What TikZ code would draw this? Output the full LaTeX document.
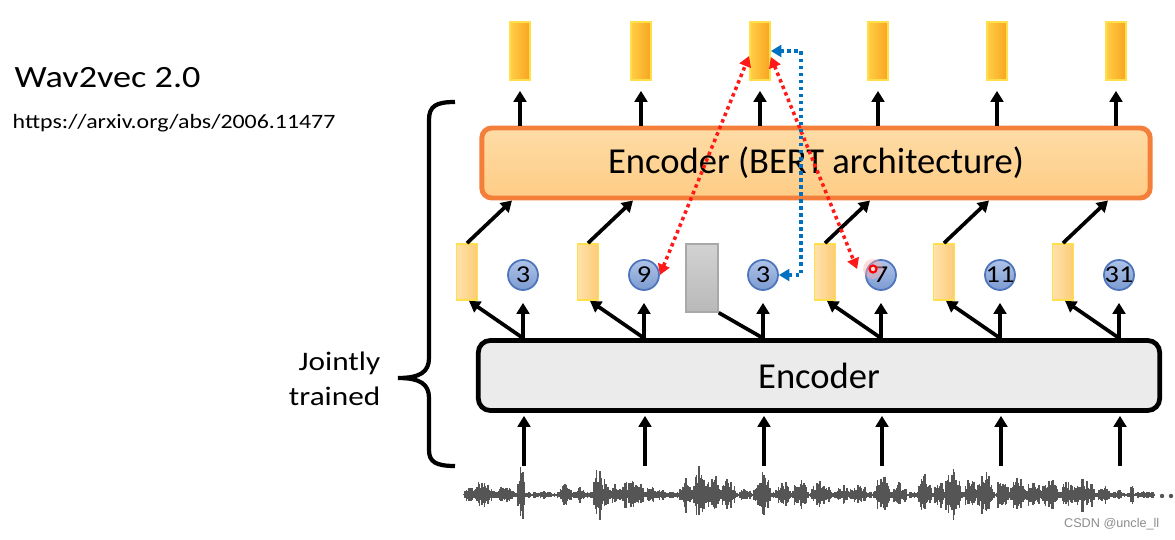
\documentclass[tikz,border=0pt]{standalone}
\usepackage{fontspec}
\setmainfont{Carlito}
\newfontfamily\slidefont[FakeStretch=1.17]{Carlito}
\newfontfamily\markfont{Liberation Sans}
\usepackage{tikz}
\usetikzlibrary{arrows.meta,shapes,calc,positioning}
\definecolor{bertline}{HTML}{F47F3A}
\definecolor{berttop}{HTML}{FDDCA6}
\definecolor{bertbot}{HTML}{FFCC85}
\definecolor{encgray}{HTML}{EBEBEB}
\definecolor{featleft}{HTML}{FFE2AC}
\definecolor{featright}{HTML}{FCCB76}
\definecolor{featline}{HTML}{FFE04A}
\definecolor{ctxleft}{HTML}{FFCE45}
\definecolor{ctxright}{HTML}{F8A421}
\definecolor{codetop}{HTML}{AEC3E8}
\definecolor{codebot}{HTML}{7D9BD2}
\definecolor{codeline}{HTML}{4E74BC}
\definecolor{maskline}{HTML}{A8A8A8}
\definecolor{masktop}{HTML}{D2D2D2}
\definecolor{maskbot}{HTML}{B9B9B9}
\definecolor{linkred}{HTML}{FF1A1A}
\definecolor{linkblue}{HTML}{0070C0}
\definecolor{wavegray}{HTML}{555555}
\tikzset{
	feat/.style={rectangle,draw=featline,line width=0.5pt,left color=featleft,right color=featright,minimum width=0.21cm,minimum height=0.56cm,inner sep=0pt},
	ctx/.style={rectangle,draw=featline,line width=0.5pt,left color=ctxleft,right color=ctxright,minimum width=0.2cm,minimum height=0.58cm,inner sep=0pt},
	code/.style={circle,draw=codeline,line width=0.5pt,top color=codetop,bottom color=codebot,minimum size=0.3cm,inner sep=0pt},
	codenum/.style={inner sep=0pt,font=\slidefont\fontsize{6.9}{7}\selectfont},
	mask/.style={rectangle,draw=maskline,line width=0.4pt,top color=masktop,bottom color=maskbot,minimum width=0.32cm,minimum height=0.68cm,inner sep=0pt},
	link/.style={line width=1.05pt,-{Triangle[length=3.1pt,width=3.6pt]}},
	guess/.style={linkred,line width=1pt,dash pattern=on 1pt off 1pt,{Triangle[length=3pt,width=3.4pt]}-{Triangle[length=3pt,width=3.4pt]}},
	quiz/.style={linkblue,line width=1pt,dash pattern=on 1pt off 1pt,{Triangle[length=3pt,width=3.4pt]}-{Triangle[length=3pt,width=3.4pt]}},
	wave/.style={draw=wavegray,line width=0.5pt}}

\begin{document}
\begin{tikzpicture}[x=0.01cm,y=-0.01cm]
	\useasboundingbox (0,0) rectangle (1175,540);

	\tikzstyle{every node}=[font=\fontsize{10.4}{12}\selectfont]
	\tikzstyle{bert}=[rectangle,rounded corners=0.1cm,draw=bertline,line width=1.4pt,top color=berttop,bottom color=bertbot,minimum width=6.68cm,minimum height=0.7cm]
	\tikzstyle{enc}=[rectangle,rounded corners=0.12cm,draw=black,line width=1.35pt,fill=encgray,minimum width=6.81cm,minimum height=0.7cm]

	\node[anchor=base west,inner sep=0pt,font=\slidefont\fontsize{8.8}{10}\selectfont] (title) at (14,88) {Wav2vec 2.0};
	\node[anchor=base west,inner sep=0pt,font=\slidefont\fontsize{5.8}{7}\selectfont] (paper) at (12,129) {https://arxiv.org/abs/2006.11477};
	\node[anchor=east,align=right,inner sep=0pt,font=\slidefont\fontsize{7.6}{10}\selectfont] (joint) at (381,379) {Jointly\\trained};

	% brace
	\draw[line width=1.2pt] (455,102) .. controls (436,102) and (429,106) .. (429,120) -- (429,358)
		.. controls (429,372) and (420,378) .. (398,378) .. controls (420,378) and (429,384) .. (429,398)
		-- (429,450) .. controls (429,462) and (436,466) .. (455,466);

	% waveform
	\pgfmathsetseed{11477}
	\foreach \x in {466,467.5,...,1154}{
		\pgfmathsetmacro{\hh}{1+2.5*rnd}
		\draw[wave] (\x,495-\hh) -- (\x,495+\hh);
	}
	\foreach \c/\a/\w in {480/14/16,505/10/10,521/30/4,545/5/8,565/12/7,580/8/5,598/32/5,605/18/4,615/12/6,632/18/14,650/10/6,662/8/5,687/18/8,699/30/6,713/24/8,728/18/8,745/8/6,762/28/9,783/16/8,800/16/8,822/18/11,845/12/10,860/12/8,882/22/8,900/14/7,925/22/7,940/16/6,953/30/8,970/18/7,985/26/8,1003/24/6,1018/20/8,1035/18/9,1050/22/8,1068/16/8,1085/18/10,1103/12/7,1118/6/6,1132/14/2,1145/4/10}{
		\pgfmathtruncatemacro{\m}{2*\w/1.2}
		\foreach \k in {0,...,\m}{
			\pgfmathsetmacro{\xx}{\c-\w+1.2*\k}
			\pgfmathsetmacro{\hh}{\a*(0.35+0.65*rnd)*(max(0.001,1-abs(\xx-\c)/\w))^0.4}
			\pgfmathsetmacro{\dd}{\hh*(0.6+0.5*rnd)}
			\draw[wave] (\xx,495-\hh) -- (\xx,495+\dd);
		}
	}
	\fill[wavegray] (1162,496) circle (0.022cm) (1171,496) circle (0.022cm);

	\node[enc] (enc) at (819,375.5) {Encoder};
	\node[bert] (bert) at (816,163) {Encoder (BERT architecture)};

	\foreach \i/\c/\n in {1/523/3,2/644/9,3/763/3,4/881/7,5/1000/11,6/1119/31}{
		\coordinate (in\i) at (\c+1,466);
		\node[code,label={[codenum]center:\n}] (code\i) at (\c,275) {};
		\node[ctx] (ctx\i) at (\c-3,51) {};
		\draw[link,shorten >=0.03cm] (in\i) -- (in\i |- enc.south);
		\draw[link,shorten >=0.12cm] (enc.north -| code\i) -- (code\i);
		\draw[link,shorten >=0.1cm] (bert.north -| ctx\i) -- (ctx\i);
		\ifnum\i=3
			\node[mask] (mask) at (\c-61,278) {};
			\draw[line width=1.05pt] (enc.north -| code\i) -- (mask.south east);
		\else
			\node[feat] (feat\i) at (\c-56,272) {};
			\draw[link] (enc.north -| code\i) -- ([xshift=0.02cm]feat\i.south);
			\draw[link] (feat\i.north) -- ($(bert.south -| code\i)+(-11,0)$);
		\fi
	}

	\node[circle,fill=red!30,opacity=0.45,minimum size=0.2cm,inner sep=0pt] (glow) at (873,269) {};
	\node[circle,draw=red,line width=0.6pt,fill=red!10,minimum size=0.07cm,inner sep=0pt] (pointer) at (873,269) {};

	\draw[guess] (code2.east) -- ($(ctx3.west)+(0,5)$);
	\draw[guess] ($(ctx3.east)+(0,6)$) -- ($(code4.west)+(-8,-6)$);
	\draw[quiz] (code3.east) -- ++(22,0) |- (ctx3.east);

	\node[anchor=base east,inner sep=0pt,font=\markfont\fontsize{3.6}{4}\selectfont,text=black!45] (mark) at (1160,528) {CSDN @uncle\_ll};
\end{tikzpicture}
\end{document}
